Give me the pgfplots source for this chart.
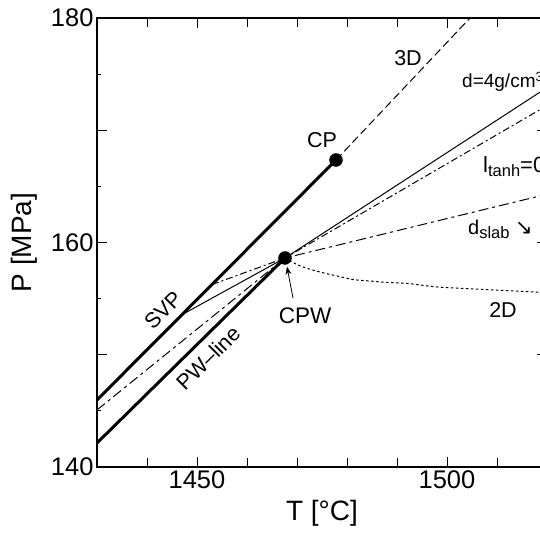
\documentclass[border=0pt]{standalone}
\usepackage{fontspec}
\setmainfont{Liberation Sans}
\newfontfamily\dejavu{DejaVu Sans}
\usepackage{pgfplots}
\pgfplotsset{compat=1.18}
\usetikzlibrary{arrows.meta}
\begin{document}
\begin{tikzpicture}
\begin{axis}[name=ax,
  scale only axis, width=450pt, height=449pt,
  xmin=1430, xmax=1520, ymin=140, ymax=180,
  clip=false,
  xtick={1450,1500},
  extra x ticks={1440,1460,1470,1480,1490,1510},
  extra x tick labels={},
  extra x tick style={major tick length=9pt},
  ytick={140,160,180},
  extra y ticks={150,170},
  extra y tick labels={},
  minor ytick={145,155,165,175},
  major tick length=10pt, minor tick length=4pt,
  tick align=inside, xtick pos=both, ytick pos=both,
  axis line style={line width=1.2pt},
  tick style={line width=1pt, black},
  /pgf/number format/assume math mode=true,
  /pgf/number format/1000 sep={},
  ticklabel style={font=\fontsize{25.5}{26}\selectfont},
  label style={font=\fontsize{28}{30}\selectfont},
  xlabel={T [°C]}, ylabel={P [MPa]},
  xlabel style={at={(axis description cs:0.5,-0.1025)}, anchor=center},
  ylabel style={at={(axis description cs:-0.162,0.5)}, anchor=center},
]
% SVP
\addplot[line width=3pt] coordinates {(1430,145.97) (1477.8,167.35)};
% PW-line
\addplot[line width=3pt] coordinates {(1430,142.14) (1467.6,158.62)};
% 3D
\addplot[line width=1pt, dash pattern=on 8pt off 4pt] coordinates {(1477.8,167.35) (1504.6,180)};
% d=4 g/cm3
\addplot[line width=1pt] coordinates {(1447,153.57) (1467.6,158.62) (1520,173.8)};
% l_tanh = 0
\addplot[line width=1pt, dash pattern=on 7pt off 3pt on 2pt off 3pt] coordinates {(1453,156.25) (1467.6,158.62) (1520,172.2)};
% d_slab
\addplot[line width=1pt, dash pattern=on 10pt off 4pt on 3pt off 4pt] coordinates {(1430,145.08) (1467.6,158.62) (1520,164.3)};
% 2D
\addplot[line width=1pt, dash pattern=on 2.5pt off 2.5pt, smooth] coordinates {(1467.6,158.62) (1469.0,158.26) (1471.2,157.82) (1474.6,157.37) (1478.0,157.02) (1481.2,156.70) (1484.6,156.57) (1488,156.44) (1492.2,156.35) (1498,156.04) (1508,155.8) (1520,155.53)};
% CP, CPW
\addplot[only marks, mark=*, mark size=6.5pt, black] coordinates {(1477.8,167.35) (1467.6,158.62)};

\draw[-{Stealth[length=8pt,width=6pt]}, line width=0.8pt] (axis cs:1469.2,155.05) -- (axis cs:1468,157.85);

\node[font=\fontsize{21.5}{22}\selectfont] at (axis cs:1492.2,176.4) {3D};
\node[font=\fontsize{21.5}{22}\selectfont] at (axis cs:1475,169.1) {CP};
\node[font=\fontsize{19}{20}\selectfont, anchor=base west, inner sep=0pt] at (axis cs:1503,173.8) {d=4g/cm\textsuperscript{3}};
\node[font=\fontsize{22}{23}\selectfont, anchor=base west, inner sep=0pt] at (axis cs:1507.2,166.2) {l\raisebox{-0.35ex}{\fontsize{16.5}{17}\selectfont tanh}=0};
\node[font=\fontsize{20}{21}\selectfont, anchor=base west, inner sep=0pt] at (axis cs:1504.2,160.67) {d\raisebox{-0.35ex}{\fontsize{16.5}{17}\selectfont slab} {\dejavu\fontsize{21}{22}\selectfont ↘}};
\node[font=\fontsize{21.5}{22}\selectfont] at (axis cs:1511.2,154.0) {2D};
\node[font=\fontsize{22.5}{23}\selectfont] at (axis cs:1471.6,153.5) {CPW};
\node[font=\fontsize{21.5}{22}\selectfont, rotate=45] at (axis cs:1443.2,154.0) {SVP};
\node[font=\fontsize{21.5}{22}\selectfont, rotate=45] at (axis cs:1452.2,149.7) {PW–line};
\end{axis}
\pgfresetboundingbox
\path[use as bounding box] ([shift={(-97pt,-66pt)}]ax.south west) rectangle ([shift={(443pt,18pt)}]ax.north west);
\end{tikzpicture}
\end{document}
